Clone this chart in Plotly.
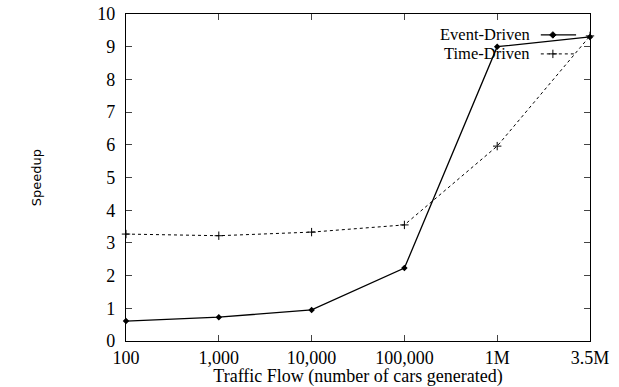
import plotly.graph_objects as go

categories = ["100", "1,000", "10,000", "100,000", "1M", "3.5M"]
event_driven = [0.61, 0.73, 0.95, 2.23, 9.0, 9.3]
time_driven = [3.27, 3.22, 3.33, 3.55, 5.96, 9.33]
y_ticks = [0, 1, 2, 3, 4, 5, 6, 7, 8, 9, 10]

xs = list(range(len(categories)))
serif = "Liberation Serif, Times New Roman, serif"

fig = go.Figure()
fig.add_trace(go.Scatter(x=xs, y=event_driven, mode="lines+markers", name="Event-Driven",
                         line=dict(color="black", width=1.3),
                         marker=dict(symbol="diamond", size=5, color="black"),
                         showlegend=False, cliponaxis=False))
fig.add_trace(go.Scatter(x=xs, y=time_driven, mode="lines+markers", name="Time-Driven",
                         line=dict(color="black", width=1, dash="dot"),
                         marker=dict(symbol="cross-thin", size=6, line=dict(color="black", width=1)),
                         showlegend=False, cliponaxis=False))

# legend (text right, sample to the right)
for i, (label, dash, sym) in enumerate([("Event-Driven", "solid", "diamond"),
                                        ("Time-Driven", "dot", "cross-thin")]):
    yp = 0.936 - i * 0.058
    fig.add_annotation(x=0.873, y=yp, xref="paper", yref="paper", text=label,
                       showarrow=False, xanchor="right", yanchor="middle", borderpad=0,
                       font=dict(family=serif, size=16.5, color="black"))
    fig.add_shape(type="line", xref="paper", yref="paper", x0=0.894, x1=0.97, y0=yp, y1=yp,
                  line=dict(color="black", width=1.3 if i == 0 else 1, dash=dash))
    fig.add_trace(go.Scatter(x=[0.92], y=[yp], xaxis="x2", yaxis="y2", mode="markers",
                             marker=dict(symbol=sym, size=5 if i == 0 else 6, color="black",
                                         line=dict(color="black", width=1)),
                             showlegend=False, hoverinfo="skip"))

fig.update_layout(
    width=619, height=387,
    margin=dict(l=126, r=29, t=14, b=46, autoexpand=False),
    paper_bgcolor="white", plot_bgcolor="white",
    font=dict(family=serif, size=18, color="black"),
    xaxis=dict(range=[0, 5], tickvals=xs, ticktext=categories, ticks="inside", ticklen=6,
               mirror="ticks", showline=True, linecolor="black", linewidth=1.3,
               showgrid=False, zeroline=False, tickfont=dict(family=serif, size=18),
               automargin=False,
               title=dict(text="Traffic Flow (number of cars generated)", standoff=0,
                          font=dict(family=serif, size=18))),
    yaxis=dict(range=[0, 10], tickvals=y_ticks, ticks="inside", ticklen=6,
               mirror="ticks", showline=True, linecolor="black", linewidth=1.3,
               showgrid=False, zeroline=False, tickfont=dict(family=serif, size=18),
               ticklabelstandoff=6, automargin=False,
               title=dict(text="Speedup", standoff=52,
                          font=dict(family="DejaVu Sans, sans-serif", size=13))),
    xaxis2=dict(range=[0, 1], domain=[0, 1], visible=False, overlaying="x"),
    yaxis2=dict(range=[0, 1], domain=[0, 1], visible=False, overlaying="y"),
)

fig.write_html("out.html", config={"displayModeBar": False},
               post_script="document.body.style.margin='0';document.body.style.overflow='hidden';")
